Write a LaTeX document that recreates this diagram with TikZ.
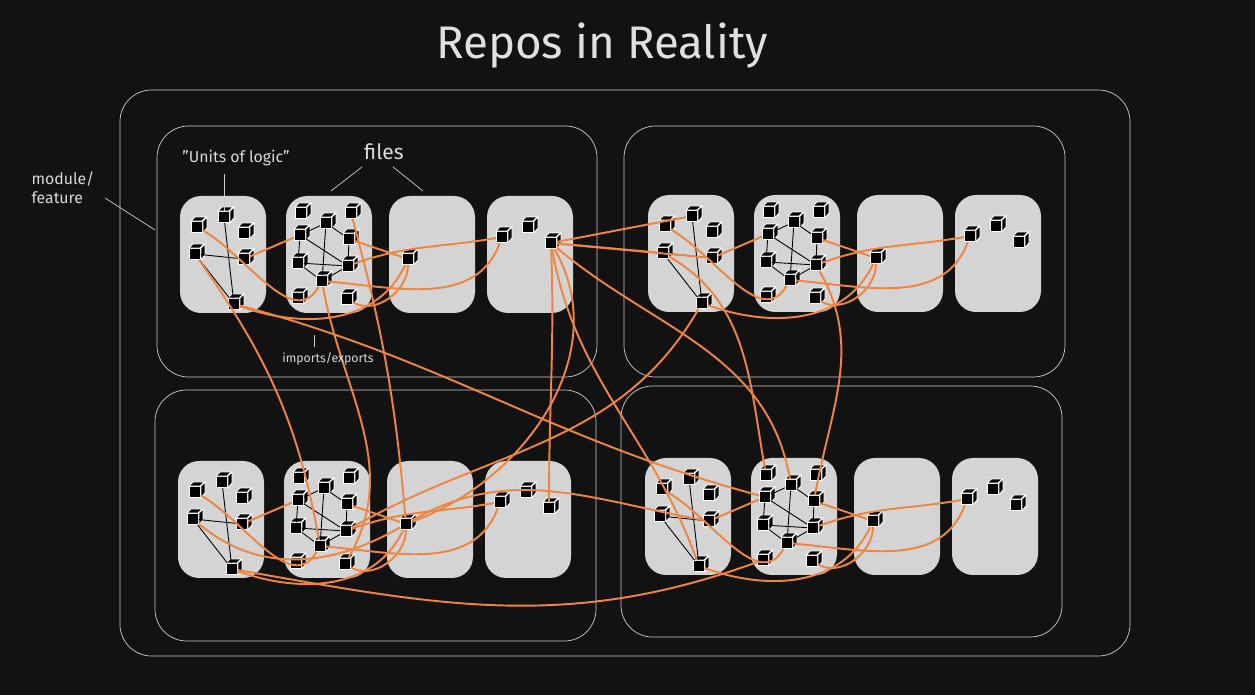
\documentclass[tikz,border=0pt]{standalone}
\usepackage{fontspec}
\setmainfont{Fira Sans}
\definecolor{bg}{HTML}{121212}
\definecolor{filegray}{HTML}{D4D4D4}
\definecolor{wire}{HTML}{EE8540}
\tikzset{
  filebox/.style={fill=filegray,rounded corners=12},
  cube/.style={draw=white,fill=black,line width=0.5pt,minimum size=0.22cm,inner sep=0pt},
  link/.style={black,line width=0.5pt},
  dep/.style={wire,line width=1.1pt},
  label/.style={white!85!black,font=\small}
}
% one cube node with its top and side faces
\newcommand\cube[2]{%
  \node[cube] (#1) at (#2) {};
  \draw[white,fill=black,line width=0.5pt] (#1.north west) -- ++(4,-4) -- ++(11,0) -- ++(-4,4) -- cycle;
  \draw[white,fill=black,line width=0.5pt] (#1.north east) -- ++(4,-4) -- ++(0,11) -- (#1.south east) -- cycle;
}
% one module: name, origin of its first file box
\newcommand\module[3]{%
  \begin{scope}[shift={(#2,#3)}]
    \foreach \fx in {0,106,209,307}
      \fill[filebox] (\fx,0) rectangle ++(86,117);
    \cube{#1a1}{44,21} \cube{#1a2}{17,31} \cube{#1a3}{64,37}
    \cube{#1a4}{15,58} \cube{#1a5}{64,63} \cube{#1a6}{54,108}
    \cube{#1b1}{121,17} \cube{#1b2}{171,17} \cube{#1b3}{146,27}
    \cube{#1b4}{120,39} \cube{#1b5}{169,43} \cube{#1b6}{118,67}
    \cube{#1b7}{168,70} \cube{#1b8}{142,85} \cube{#1b9}{118,102}
    \cube{#1b10}{167,103}
    \cube{#1c1}{228,63}
    \cube{#1d1}{348,31} \cube{#1d2}{322,41} \cube{#1d3}{371,47}
    % black links inside files
    \draw[link] (#1a1) -- (#1a6) (#1a4) -- (#1a6) (#1a4) -- (#1a5);
    \draw[link] (#1b4) -- (#1b3) -- (#1b5) -- (#1b7) -- (#1b8) -- (#1b6) -- (#1b4)
      (#1b4) -- (#1b7) (#1b3) -- (#1b8) (#1b6) -- (#1b7) (#1b4) -- (#1b6);
    % orange imports inside the module
    \draw[dep] (#1a2) to[out=-30,in=-120] (#1b8);
    \draw[dep] (#1a5) -- (#1b4);
    \draw[dep] (#1b5) -- (#1c1);
    \draw[dep] (#1b7) to[out=20,in=190] (#1d2);
    \draw[dep] (#1b8) to[out=-5,in=-110] (#1d2);
    \draw[dep] (#1b10) to[out=-30,in=-90] (#1c1);
    \draw[dep] (#1c1) to[out=-115,in=-20] (#1a6);
  \end{scope}
}
\begin{document}
\begin{tikzpicture}[x=0.02cm,y=-0.02cm]
  \fill[bg] (0,0) rectangle (1255,695);
  \useasboundingbox (0,0) rectangle (1255,695);
  \node[white!88!black,font=\fontsize{26}{30}\selectfont] (title) at (602,46) {Repos in Reality};
  \draw[white!80!black,rounded corners=18] (120,90) rectangle (1130,656);
  \foreach \x/\y/\w in {157/126/440,624/126/441,155/390/441,621/386/441}
    \draw[white!80!black,rounded corners=18] (\x,\y) rectangle ++(\w,251);
  \module{TL}{180}{196}
  \module{TR}{648}{195}
  \module{BL}{178}{461}
  \module{BR}{645}{458}
  % imports between modules
  \draw[dep] (TLd3) -- (TRa1);
  \draw[dep] (TLd3) -- (TRa4);
  \draw[dep] (TLd3) -- (TRa5);
  \draw[dep] (TLd3) to[out=-88,in=90] (BLd3);
  \draw[dep] (TLd3) to[out=-80,in=110] (BRa6);
  \draw[dep] (TLd3) to[out=-40,in=100] (BRb3);
  \draw[dep] (TLd3) to[out=-60,in=20] (BLc1);
  \draw[dep] (TLa6) to[out=-15,in=165] (BRb4);
  \draw[dep] (TLa4) to[out=-55,in=100] (BLb8);
  \draw[dep] (TLb2) to[out=-75,in=95] (BLc1);
  \draw[dep] (TLb8) to[out=-80,in=60] (BLb10);
  \draw[dep] (TRa4) to[out=-30,in=100] (BRb1);
  \draw[dep] (TRb7) to[out=-60,in=80] (BRb5);
  \draw[dep] (TRa6) to[out=-120,in=30] (BLb7);
  \draw[dep] (BLc1) to[out=30,in=170] (BRa5);
  \draw[dep] (BLa6) to[out=-10,in=-160] (BRb9);
  \draw[dep] (BLa4) to[out=-40,in=-150] (BLc1);
  % annotations
  \node[label] (units) at (236,158) {\symbol{34}Units of logic\symbol{34}};
  \draw[white!80!black] (units.south -| TLa1) ++(0,2) -- (TLa1);
  \node[label,font=\large] (files) at (384,152) {files};
  \coordinate (f1) at (331,191); \coordinate (f2) at (423,191);
  \draw[white!80!black] (362,167) -- (f1) (393,167) -- (f2);
  \node[label,align=left] (feat) at (63,188) {module/\\feature};
  \coordinate (edge) at (155,230);
  \draw[white!80!black] (105,198) -- (edge);
  \node[label,font=\scriptsize] (imex) at (328,359) {imports/exports};
  \draw[white!80!black] (imex.north) ++(-14,0) -- ++(0,-12);
\end{tikzpicture}
\end{document}
